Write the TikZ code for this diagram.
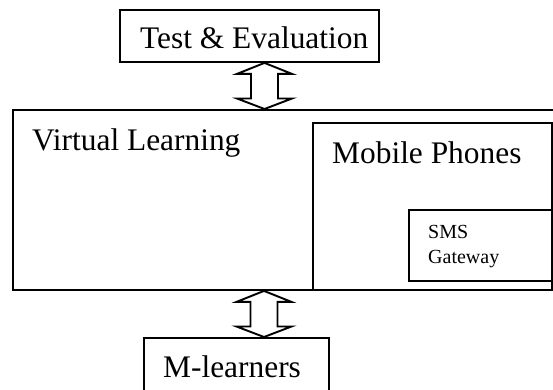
\documentclass[tikz,border=0pt]{standalone}
\usepackage{fontspec}
\setmainfont{Liberation Serif}
\usetikzlibrary{calc}
\tikzset{
  box/.style={draw=black, line width=1.9pt, fill=none, inner sep=0pt, anchor=north west},
  big/.style={font=\fontsize{31.4}{36}\selectfont, inner sep=0pt, anchor=base west},
  small/.style={font=\fontsize{20}{25}\selectfont, inner sep=0pt, anchor=north west, align=left},
  arr/.style={draw=black, line width=1.9pt, fill=white, line join=miter}
}
\newcommand{\dblarr}[2]{%
  \draw[arr] (#1) -- ($(#1)+(27.5,11)$) -- ($(#1)+(13.5,11)$) -- ($(#2)+(13.5,-10.5)$)
   -- ($(#2)+(27.5,-10.5)$) -- (#2) -- ($(#2)+(-27.5,-10.5)$) -- ($(#2)+(-13.5,-10.5)$)
   -- ($(#1)+(-13.5,11)$) -- ($(#1)+(-27.5,11)$) -- cycle;}
\begin{document}
\begin{tikzpicture}[x=1pt,y=-1pt]
\useasboundingbox (0,0) rectangle (553,389);
\clip (0,0) rectangle (553,389);
\fill[white] (0,0) rectangle (553,389);
% boxes
\node[box, minimum width=259pt, minimum height=52pt] (te) at (119,9) {};
\node[box, minimum width=560pt, minimum height=180pt] (vl) at (12,109) {};
\node[box, minimum width=239pt, minimum height=167pt] (mp) at (312,122) {};
\node[box, minimum width=160pt, minimum height=71pt] (sms) at (408,209) {};
\node[box, minimum width=185pt, minimum height=80pt] (ml) at (143,337) {};
% labels
\node[big] (tet) at (140,48) {Test \& Evaluation};
\node[big] (vlt) at (32,150) {Virtual Learning};
\node[big] (mpt) at (332,163) {Mobile Phones};
\node[small] (smst) at (428,224.8) {SMS\\Gateway};
\node[big] (mlt) at (163,377) {M-learners};
% arrows
\coordinate (a1) at (te.south -| 264.5,0);
\coordinate (a2) at (vl.north -| 264.5,0);
\coordinate (b1) at (vl.south -| 264,0);
\coordinate (b2) at (ml.north -| 264,0);
\dblarr{a1}{a2}
\dblarr{b1}{b2}
\end{tikzpicture}
\end{document}
